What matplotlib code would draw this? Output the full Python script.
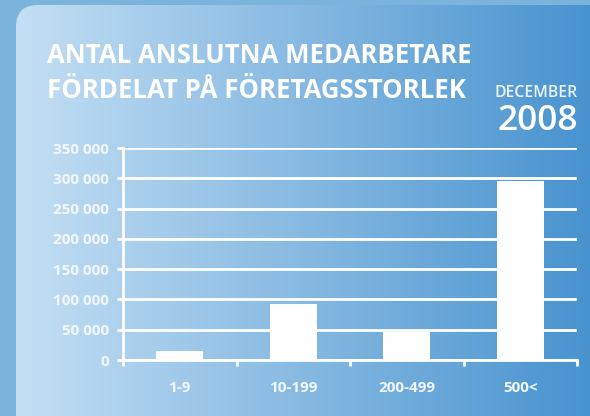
import matplotlib.pyplot as plt
import numpy as np
from matplotlib.patches import FancyBboxPatch
from matplotlib.ticker import FuncFormatter

kategorier = ['1-9', '10-199', '200-499', '500<']
medarbetare = [15000, 93000, 47000, 295000]
y_ticks = [0, 50000, 100000, 150000, 200000, 250000, 300000, 350000]

titel_rader = ['ANTAL ANSLUTNA MEDARBETARE', 'FÖRDELAT PÅ FÖRETAGSSTORLEK']
manad = 'DECEMBER'
ar = '2008'

W, H = 590, 416
fig = plt.figure(figsize=(W / 100, H / 100), dpi=100)
fig.patch.set_facecolor('#7ab3dc')

# bakgrund med gradient och rundade hörn
bg = fig.add_axes([0, 0, 1, 1])
bg.set_xlim(0, W)
bg.set_ylim(H, 0)
bg.axis('off')
panel = FancyBboxPatch((16, 5), W + 40, H + 40, boxstyle='round,pad=0,rounding_size=22',
                       facecolor='none', edgecolor='none')
bg.add_patch(panel)
c1 = np.array([0xc4, 0xdf, 0xf4]) / 255
c2 = np.array([0x48, 0x93, 0xcf]) / 255
t = np.linspace(0, 1, 256)
grad = (c1[None, :] * (1 - t[:, None]) + c2[None, :] * t[:, None])[None, :, :]
im = bg.imshow(grad, extent=(16, W, H, 5), aspect='auto')
im.set_clip_path(panel)

fnt = 'Open Sans'
for i, rad in enumerate(titel_rader):
    bg.text(47, 63 + i * 35, rad, color='white', fontsize=18.5, fontweight='bold',
            family=fnt, va='baseline')
bg.text(578, 97, manad, color='#eef5fb', fontsize=11.3, fontweight='semibold',
        family=fnt, ha='right', va='baseline')
bg.text(578, 130, ar, color='white', fontsize=25.5, fontweight='semibold',
        family=fnt, ha='right', va='baseline')

# diagram
ax = fig.add_axes([123 / W, 1 - 360 / H, (577 - 123) / W, (360 - 148) / H])
ax.set_facecolor('none')
x = np.arange(len(kategorier))
ax.bar(x, medarbetare, width=0.41, color='white', zorder=3)
ax.set_xlim(-0.5, len(kategorier) - 0.5)
ax.set_ylim(0, 350000)
ax.set_yticks(y_ticks)
ax.yaxis.set_major_formatter(FuncFormatter(lambda v, p: f'{int(v):,}'.replace(',', ' ')))
ax.set_xticks(np.arange(-0.5, len(kategorier), 1.0))
ax.set_xticklabels([])
ax.set_xticks(x, minor=True)
ax.set_xticklabels(kategorier, minor=True)
ax.grid(axis='y', color='white', linewidth=2, zorder=1)
for s in ['top', 'right']:
    ax.spines[s].set_visible(False)
ax.spines['left'].set_color('white')
ax.spines['left'].set_linewidth(2)
ax.spines['bottom'].set_color('white')
ax.spines['bottom'].set_linewidth(2)
ax.tick_params(axis='y', colors='white', length=4, width=2, pad=6,
               labelcolor='#f2f7fc', labelsize=11)
ax.tick_params(axis='x', which='major', colors='white', length=4, width=2)
ax.tick_params(axis='x', which='minor', length=0, pad=15, labelcolor='#f2f7fc', labelsize=11)
for lab in ax.get_yticklabels() + ax.get_xticklabels(minor=True):
    lab.set_fontweight('bold')
    lab.set_family(fnt)

fig.savefig('out.png', dpi=100, facecolor=fig.get_facecolor())
